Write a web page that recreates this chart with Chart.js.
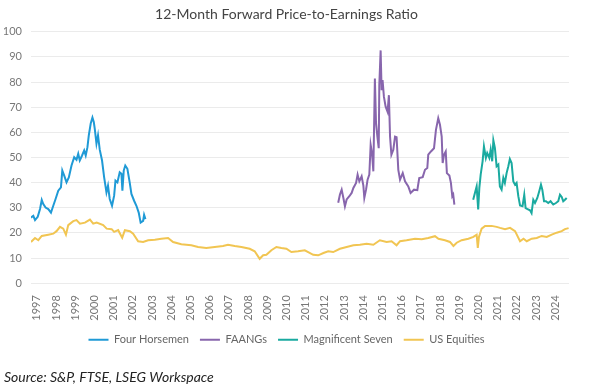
<!DOCTYPE html>
<html>
<head>
<meta charset="utf-8">
<script src="https://cdn.jsdelivr.net/npm/chart.js@4.4.0/dist/chart.umd.min.js"></script>
<style>
  html, body { margin: 0; padding: 0; background: #fff; }
  #wrap { width: 600px; height: 387px; }
</style>
</head>
<body>
<div id="wrap"><canvas id="peChart"></canvas></div>
<script>
// 12-month forward P/E
const yearTicks = [1997, 1998, 1999, 2000, 2001, 2002, 2003, 2004, 2005, 2006, 2007, 2008, 2009, 2010,
  2011, 2012, 2013, 2014, 2015, 2016, 2017, 2018, 2019, 2020, 2021, 2022, 2023, 2024];
const peTicks = [0, 10, 20, 30, 40, 50, 60, 70, 80, 90, 100];

const horsemenX = [1996.70, 1996.82, 1996.91, 1997.05, 1997.17, 1997.26, 1997.34, 1997.46, 1997.60, 1997.74,
  1997.86, 1997.98, 1998.12, 1998.26, 1998.33, 1998.43, 1998.55, 1998.67, 1998.81, 1998.95,
  1999.07, 1999.16, 1999.24, 1999.36, 1999.47, 1999.55, 1999.64, 1999.71, 1999.81, 1999.90,
  1999.97, 2000.02, 2000.11, 2000.19, 2000.28, 2000.40, 2000.51, 2000.63, 2000.71, 2000.80,
  2000.92, 2001.03, 2001.10, 2001.20, 2001.32, 2001.41, 2001.46, 2001.53, 2001.61, 2001.72,
  2001.84, 2001.93, 2002.07, 2002.19, 2002.31, 2002.41, 2002.54, 2002.59, 2002.66];
const horsemenPE = [26.1, 26.8, 25.1, 26.4, 29.5, 33.1, 31.5, 30.1, 29.5, 28.1,
  30.8, 33.5, 36.8, 38.1, 44.8, 42.8, 40.1, 42.1, 46.8, 50.1,
  49.1, 51.5, 48.8, 50.8, 52.8, 50.8, 54.1, 58.8, 63.5, 65.9,
  64.1, 61.5, 55.5, 58.8, 53.1, 48.8, 42.1, 36.1, 38.8, 33.5,
  30.8, 34.8, 40.8, 40.1, 44.1, 43.5, 36.8, 44.8, 46.8, 45.5,
  40.1, 35.5, 32.8, 30.8, 28.1, 24.1, 24.8, 27.2, 25.5];

const faangX = [2012.70, 2012.79, 2012.88, 2012.97, 2013.05, 2013.14, 2013.28, 2013.40, 2013.49, 2013.63,
  2013.71, 2013.80, 2013.92, 2014.01, 2014.06, 2014.15, 2014.23, 2014.32, 2014.39, 2014.46,
  2014.53, 2014.61, 2014.67, 2014.74, 2014.81, 2014.84, 2014.91, 2014.96, 2015.01, 2015.08,
  2015.17, 2015.27, 2015.34, 2015.40, 2015.47, 2015.57, 2015.66, 2015.74, 2015.83, 2015.92,
  2016.06, 2016.18, 2016.35, 2016.47, 2016.65, 2016.82, 2016.92, 2017.10, 2017.22, 2017.34,
  2017.39, 2017.53, 2017.69, 2017.79, 2017.91, 2018.00, 2018.09, 2018.14, 2018.21, 2018.30,
  2018.36, 2018.49, 2018.57, 2018.64, 2018.69, 2018.75];
const faangPE = [32.0, 35.3, 37.2, 33.9, 30.6, 33.3, 34.6, 35.9, 37.9, 39.9,
  43.2, 40.5, 42.5, 38.8, 33.9, 37.2, 41.2, 43.2, 55.0, 51.7,
  44.5, 81.4, 63.6, 58.3, 53.7, 78.8, 92.6, 76.8, 80.8, 74.2,
  70.2, 68.2, 74.8, 58.3, 51.1, 53.1, 58.3, 58.1, 45.1, 41.2,
  43.8, 40.5, 38.5, 35.9, 37.2, 37.0, 41.8, 42.2, 45.1, 45.8,
  51.1, 52.4, 53.7, 61.0, 65.6, 63.0, 58.3, 47.8, 51.1, 52.4,
  43.8, 42.8, 39.9, 34.6, 35.3, 31.3];

const magSevenX = [2019.73, 2019.82, 2019.91, 2019.99, 2020.05, 2020.12, 2020.22, 2020.29, 2020.39, 2020.46,
  2020.57, 2020.64, 2020.72, 2020.78, 2020.86, 2020.95, 2021.04, 2021.12, 2021.21, 2021.30,
  2021.38, 2021.47, 2021.56, 2021.64, 2021.73, 2021.82, 2021.91, 2021.99, 2022.08, 2022.17,
  2022.30, 2022.39, 2022.46, 2022.56, 2022.69, 2022.77, 2022.86, 2022.95, 2023.07, 2023.17,
  2023.26, 2023.33, 2023.42, 2023.52, 2023.64, 2023.76, 2023.90, 2024.04, 2024.16, 2024.25,
  2024.34, 2024.42, 2024.51, 2024.60];
const magSevenPE = [33.2, 35.9, 38.5, 29.3, 37.9, 43.2, 48.5, 54.4, 49.8, 51.8,
  49.8, 53.1, 48.5, 56.8, 53.8, 46.5, 47.2, 38.5, 37.2, 41.9,
  39.9, 43.8, 46.5, 49.4, 47.8, 40.5, 39.2, 39.9, 34.6, 30.9,
  30.6, 35.2, 29.9, 29.5, 29.0, 27.9, 33.2, 31.9, 33.9, 36.6,
  39.2, 37.2, 32.6, 32.6, 31.9, 32.6, 31.3, 31.9, 32.6, 35.2,
  34.3, 32.6, 33.2, 33.9];

const usX = [1996.70, 1996.91, 1997.08, 1997.26, 1997.60, 1997.86, 1998.03, 1998.21, 1998.38, 1998.52,
  1998.64, 1998.90, 1999.07, 1999.25, 1999.51, 1999.77, 1999.94, 2000.12, 2000.46, 2000.64,
  2000.90, 2001.03, 2001.24, 2001.45, 2001.59, 2001.85, 2002.02, 2002.28, 2002.54, 2002.80,
  2003.15, 2003.49, 2003.84, 2004.10, 2004.53, 2005.05, 2005.40, 2005.83, 2006.27, 2006.70,
  2006.96, 2007.31, 2007.66, 2008.09, 2008.35, 2008.61, 2008.79, 2008.96, 2009.22, 2009.48,
  2009.74, 2010.00, 2010.26, 2010.61, 2010.96, 2011.40, 2011.66, 2011.93, 2012.18, 2012.44,
  2012.79, 2013.14, 2013.49, 2013.83, 2014.18, 2014.53, 2014.87, 2015.22, 2015.48, 2015.74,
  2015.92, 2016.26, 2016.70, 2017.05, 2017.39, 2017.74, 2017.92, 2018.26, 2018.52, 2018.70,
  2018.87, 2019.13, 2019.48, 2019.74, 2019.91, 2019.97, 2020.03, 2020.17, 2020.35, 2020.69,
  2020.95, 2021.13, 2021.39, 2021.65, 2021.91, 2022.17, 2022.35, 2022.52, 2022.78, 2023.04,
  2023.30, 2023.56, 2023.82, 2024.08, 2024.34, 2024.51, 2024.70];
const usPE = [16.4, 18.0, 17.1, 18.8, 19.3, 19.7, 20.7, 22.4, 21.7, 19.3,
  23.1, 24.7, 25.1, 23.7, 24.1, 25.3, 23.7, 24.1, 23.1, 21.7,
  21.5, 20.4, 21.1, 18.1, 21.1, 20.7, 19.7, 16.7, 16.4, 17.1,
  17.3, 17.7, 18.0, 16.4, 15.5, 15.1, 14.4, 14.0, 14.4, 14.8,
  15.3, 14.8, 14.4, 13.7, 12.7, 9.7, 11.1, 11.3, 13.1, 14.4,
  14.0, 13.7, 12.4, 12.7, 13.1, 11.3, 11.1, 12.0, 12.7, 12.4,
  13.7, 14.4, 15.1, 15.3, 15.7, 15.3, 17.1, 16.4, 16.7, 15.1,
  16.7, 17.1, 17.7, 17.5, 18.0, 18.7, 17.7, 17.1, 16.4, 14.8,
  16.1, 17.1, 17.7, 18.4, 19.3, 14.0, 18.4, 21.7, 22.8, 22.8,
  22.4, 22.0, 21.5, 22.0, 20.7, 16.7, 17.7, 16.7, 17.7, 18.0,
  18.8, 18.4, 19.3, 20.1, 20.7, 21.5, 21.9];

function points(xs, ys) {
  return xs.map((x, i) => ({ x: x, y: ys[i] }));
}

function series(label, xs, ys, color) {
  return {
    label: label,
    data: points(xs, ys),
    borderColor: color,
    backgroundColor: color,
    borderWidth: 2,
    pointRadius: 0,
    tension: 0,
    fill: false
  };
}

const tickFont = { family: 'Lato, "Open Sans", sans-serif', size: 11 };

new Chart(document.getElementById('peChart'), {
  type: 'line',
  data: {
    datasets: [
      series('Four Horsemen', horsemenX, horsemenPE, '#1f9ad6'),
      series('FAANGs', faangX, faangPE, '#8866ad'),
      series('Magnificent Seven', magSevenX, magSevenPE, '#1aaaa0'),
      series('US Equities', usX, usPE, '#f1c552')
    ]
  },
  options: {
    responsive: true,
    maintainAspectRatio: false,
    animation: false,
    layout: { padding: { left: 4, right: 31, top: 0, bottom: 1 } },
    plugins: {
      title: {
        display: true,
        text: '12-Month Forward Price-to-Earnings Ratio',
        color: '#444',
        font: { family: 'Lato, "Open Sans", sans-serif', size: 14, weight: 'normal' },
        padding: { top: 6, bottom: 9 }
      },
      legend: {
        position: 'bottom',
        labels: {
          usePointStyle: true,
          pointStyle: 'line',
          pointStyleWidth: 20,
          color: '#666',
          padding: 11,
          font: { family: 'Lato, "Open Sans", sans-serif', size: 11 }
        }
      },
      subtitle: {
        display: true,
        position: 'bottom',
        align: 'start',
        text: 'Source: S&P, FTSE, LSEG Workspace',
        color: '#222',
        font: { family: 'Lato, "Open Sans", sans-serif', size: 14, style: 'italic', weight: 'normal' },
        padding: { top: 14, bottom: 0 }
      },
      tooltip: { enabled: false }
    },
    scales: {
      x: {
        type: 'linear',
        min: 1996.7,
        max: 2024.72,
        grid: { display: false },
        border: { display: false },
        afterBuildTicks: (scale) => { scale.ticks = yearTicks.map(v => ({ value: v })); },
        afterFit: (scale) => { scale.height = 40; },
        ticks: {
          autoSkip: false,
          minRotation: 90,
          maxRotation: 90,
          padding: 4,
          color: '#777',
          font: tickFont,
          callback: (v) => String(v)
        }
      },
      y: {
        min: 0,
        max: 100,
        afterBuildTicks: (scale) => { scale.ticks = peTicks.map(v => ({ value: v })); },
        afterFit: (scale) => { scale.width = 27; },
        grid: { color: '#ebebeb', lineWidth: 1, drawTicks: false },
        border: { display: false },
        ticks: { padding: 9, color: '#777', font: tickFont }
      }
    }
  }
});
</script>
</body>
</html>
